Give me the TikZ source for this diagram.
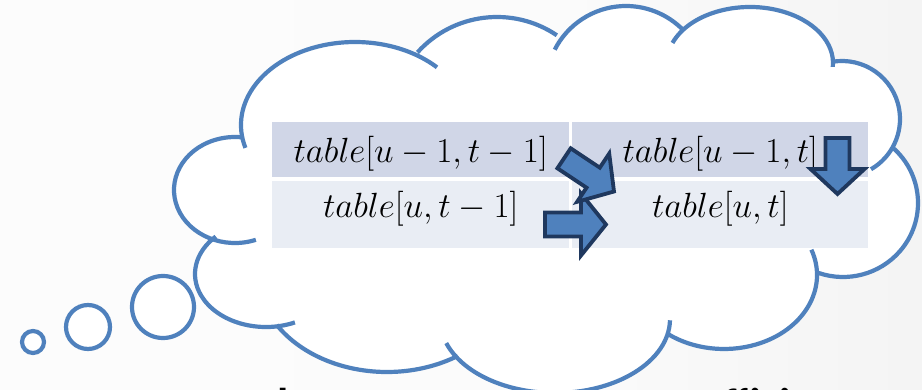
\RequirePackage{fix-cm}
\documentclass[tikz,border=0pt]{standalone}
\usepackage{amsmath}
\usepackage{fontspec}
\newfontfamily\capfont{Carlito}
\usepackage{xcolor}
\usepackage{tikz}
\usetikzlibrary{positioning}

\definecolor{cloudblue}{RGB}{79,129,189}
\definecolor{arrowfill}{RGB}{79,129,189}
\definecolor{arrowline}{RGB}{31,56,94}
\definecolor{rowdark}{RGB}{208,214,231}
\definecolor{rowlight}{RGB}{233,237,244}
\pgfdeclarehorizontalshading{slidebg}{100bp}{color(0bp)=(black!1); color(55bp)=(black!1.5); color(100bp)=(black!8)}

% one lobe of the cloud: centre x, centre y, x radius, y radius, from, to
\newcommand{\lobe}[6]{([shift={(#1,#2)}]#5:#3 and #4) arc[start angle=#5, end angle=#6, x radius=#3, y radius=#4]}
\newcommand{\cloudpath}[1]{%
  \lobe{355}{125}{114}{83}{164}{316} #1
  \lobe{497}{124}{107}{107}{222}{304} #1
  \lobe{626}{86}{80}{80}{207}{316} #1
  \lobe{750}{63}{83}{56}{201}{364} #1
  \lobe{842}{119}{58}{58}{260}{420} #1
  \lobe{843}{203}{75}{74}{311}{469} #1
  \lobe{724}{275}{93}{74}{340}{487} #1
  \lobe{555}{319}{115}{74}{1}{161} #1
  \lobe{387}{272}{130}{100}{57}{148} #1
  \lobe{266}{274}{71}{53}{66}{225} #1
  \lobe{235}{190}{61}{53}{70}{277}}
% block arrow pointing along +x, tip at the origin
\newcommand{\blockarrow}[2]{(0,0) -- (-25,#2) -- (-25,12) -- (-#1,12) -- (-#1,-12) -- (-25,-12) -- (-25,-#2) -- cycle}

\begin{document}
\begin{tikzpicture}[x=1pt, y=-1pt,
  cloudline/.style={draw=cloudblue, line width=4.2pt},
  cell/.style={inner sep=0pt, minimum width=297pt, font=\fontsize{35}{40}\selectfont},
  toprow/.style={cell, fill=rowdark, minimum height=55pt, text height=30pt, text depth=5pt},
  botrow/.style={cell, fill=rowlight, minimum height=67.7pt, text height=12pt, text depth=5.7pt},
  blockarr/.style={fill=arrowfill, draw=arrowline, line width=3.8pt, line join=miter},
  captext/.style={inner sep=0pt, anchor=base west, font=\capfont\bfseries\fontsize{46}{46}\selectfont}]
\useasboundingbox (0,0) rectangle (922,390);
% background
\shade[shading=slidebg] (0,0) rectangle (922,390);
% caption line, mostly hidden behind the cloud
\node[captext] (capleft) at (277,420) {l};
\node[captext] (capright) at (699,420) {efficient};
% cloud
\fill[white] \cloudpath{--} -- cycle;
\draw[cloudline] \cloudpath{};
% thought bubbles
\draw[cloudline, fill=white] (163,307) circle[radius=31];
\draw[cloudline, fill=white] (88,327) circle[radius=22];
\draw[cloudline, fill=white] (33,342) circle[radius=11];
% table
\node[toprow, anchor=north west] (diag) at (272,122) {$table[u-1,t-1]$};
\node[toprow, minimum width=296pt, right=2.7pt of diag] (up) {$table[u-1,t]$};
\node[botrow, below=3pt of diag] (left) {$table[u,t-1]$};
\node[botrow, minimum width=296pt, below=3pt of up] (cur) {$table[u,t]$};
% arrows into table[u,t]
\draw[blockarr, shift={(606,224.5)}] \blockarrow{61}{31};
\draw[blockarr, shift={(614,191.5)}, rotate=-33.6] \blockarrow{60}{29};
\draw[blockarr, shift={(837.5,194)}, rotate=-90] \blockarrow{56}{27};
\end{tikzpicture}
\end{document}
